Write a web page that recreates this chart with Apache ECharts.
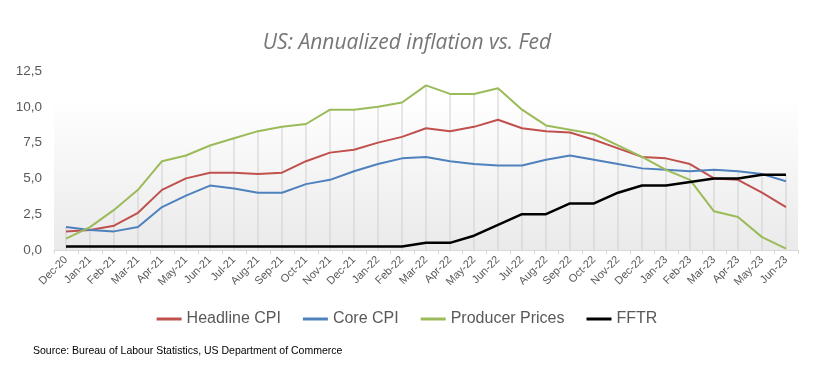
<!DOCTYPE html>
<html><head><meta charset="utf-8">
<script src="https://cdn.jsdelivr.net/npm/echarts@6/dist/echarts.min.js"></script>
<style>html,body{margin:0;padding:0;background:#fff}#c{width:814px;height:384px}</style>
</head><body><div id="c"></div>
<script>
const categories = ["Dec-20","Jan-21","Feb-21","Mar-21","Apr-21","May-21","Jun-21","Jul-21","Aug-21","Sep-21","Oct-21","Nov-21","Dec-21","Jan-22","Feb-22","Mar-22","Apr-22","May-22","Jun-22","Jul-22","Aug-22","Sep-22","Oct-22","Nov-22","Dec-22","Jan-23","Feb-23","Mar-23","Apr-23","May-23","Jun-23"];
const headlineCPI = [1.3,1.4,1.7,2.6,4.2,5.0,5.4,5.4,5.3,5.4,6.2,6.8,7.0,7.5,7.9,8.5,8.3,8.6,9.1,8.5,8.3,8.2,7.7,7.1,6.5,6.4,6.0,5.0,4.9,4.0,3.0];
const coreCPI = [1.6,1.4,1.3,1.6,3.0,3.8,4.5,4.3,4.0,4.0,4.6,4.9,5.5,6.0,6.4,6.5,6.2,6.0,5.9,5.9,6.3,6.6,6.3,6.0,5.7,5.6,5.5,5.6,5.5,5.3,4.8];
const producerPrices = [0.8,1.6,2.8,4.2,6.2,6.6,7.3,7.8,8.3,8.6,8.8,9.8,9.8,10.0,10.3,11.5,10.9,10.9,11.3,9.8,8.7,8.4,8.1,7.3,6.5,5.6,4.9,2.7,2.3,0.9,0.1];
const fftr = [0.25,0.25,0.25,0.25,0.25,0.25,0.25,0.25,0.25,0.25,0.25,0.25,0.25,0.25,0.25,0.5,0.5,1.0,1.75,2.5,2.5,3.25,3.25,4.0,4.5,4.5,4.75,5.0,5.0,5.25,5.25];
const yTicks = {min:0, max:12.5, interval:2.5};
const dropLines = categories.map((c,i)=>Math.max(headlineCPI[i],coreCPI[i],producerPrices[i],fftr[i]));

const chart = echarts.init(document.getElementById('c'));
const lbl = '#595959';
chart.setOption({
  animation:false,
  title:{text:'US: Annualized inflation vs. Fed',left:'center',top:28,
    textStyle:{fontFamily:'Open Sans',fontStyle:'italic',fontWeight:'normal',fontSize:21,color:'#767676'}},
  legend:{data:['Headline CPI','Core CPI','Producer Prices','FFTR'],top:306,left:'center',
    icon:'rect',itemWidth:25,itemHeight:3,itemGap:22,
    textStyle:{fontFamily:'Liberation Sans',fontSize:16,color:lbl}},
  grid:{left:54,right:16,top:71,bottom:134,show:true,borderWidth:0,
    backgroundColor:{type:'linear',x:0,y:0,x2:0,y2:1,colorStops:[{offset:0,color:'#ffffff'},{offset:0.15,color:'#ffffff'},{offset:1,color:'#eaeaea'}]}},
  xAxis:{type:'category',data:categories,boundaryGap:true,
    axisLine:{lineStyle:{color:'#d9d9d9'}},
    axisTick:{show:true,interval:0,length:4,lineStyle:{color:'#d9d9d9'}},
    axisLabel:{interval:0,rotate:45,fontSize:11,color:lbl,fontFamily:'Liberation Sans',margin:8}},
  yAxis:{type:'value',min:yTicks.min,max:yTicks.max,interval:yTicks.interval,
    axisLine:{show:false},axisTick:{show:false},splitLine:{show:false},
    axisLabel:{fontSize:13.5,color:lbl,fontFamily:'Liberation Sans',margin:12,
      formatter:v=>v.toFixed(1).replace('.',',')}},
  graphic:[{type:'text',left:33,top:346,style:{text:'Source: Bureau of Labour Statistics, US Department of Commerce',
    font:'10.5px "Liberation Sans"',fill:'#000'}}],
  series:[
    {name:'drop',type:'bar',data:dropLines,barWidth:1,itemStyle:{color:'#d0d0d0'},z:1,silent:true,legendHoverLink:false},
    {name:'Headline CPI',type:'line',data:headlineCPI,showSymbol:false,lineStyle:{color:'#c0504d',width:2},itemStyle:{color:'#c0504d'},z:3},
    {name:'Core CPI',type:'line',data:coreCPI,showSymbol:false,lineStyle:{color:'#4f81bd',width:2},itemStyle:{color:'#4f81bd'},z:3},
    {name:'Producer Prices',type:'line',data:producerPrices,showSymbol:false,lineStyle:{color:'#9bbb59',width:2},itemStyle:{color:'#9bbb59'},z:3},
    {name:'FFTR',type:'line',data:fftr,showSymbol:false,lineStyle:{color:'#000000',width:2.5},itemStyle:{color:'#000000'},z:4}
  ]
});
</script></body></html>
